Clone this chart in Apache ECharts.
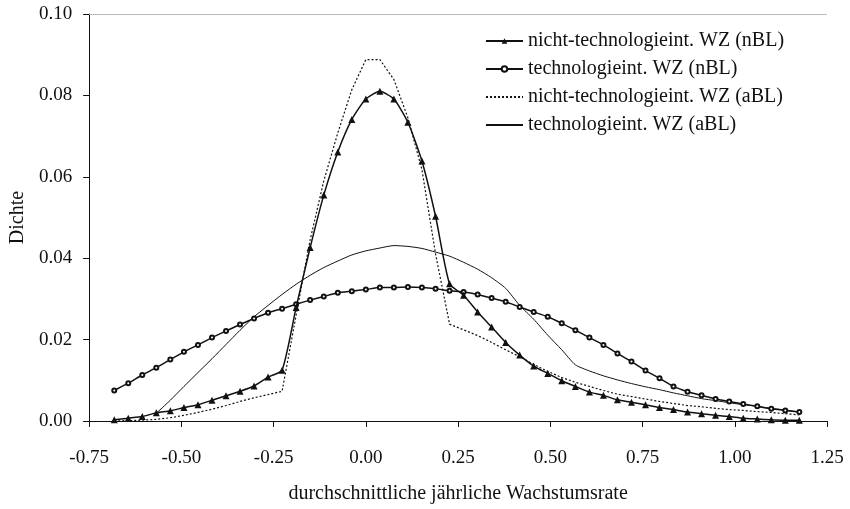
<!DOCTYPE html>
<html>
<head>
<meta charset="utf-8">
<script src="https://cdn.jsdelivr.net/npm/echarts@6/dist/echarts.min.js"></script>
<style>
  html, body { margin: 0; padding: 0; background: #fff; }
  #chart { width: 850px; height: 509px; }
</style>
</head>
<body>
<div id="chart"></div>
<script>
// x-Stützstellen (gemeinsam für alle Kurven)
var xs = [-0.682, -0.644, -0.606, -0.568, -0.530, -0.493, -0.455, -0.417, -0.379, -0.341,
          -0.303, -0.265, -0.227, -0.189, -0.151, -0.114, -0.076, -0.038, 0.000, 0.038,
          0.076, 0.114, 0.152, 0.189, 0.227, 0.265, 0.303, 0.341, 0.379, 0.417,
          0.455, 0.493, 0.531, 0.568, 0.606, 0.644, 0.682, 0.720, 0.758, 0.796,
          0.834, 0.872, 0.910, 0.948, 0.985, 1.023, 1.061, 1.099, 1.137, 1.175];

// nicht-technologieint. WZ (nBL)
var nichtTechNBL = [0.0003, 0.0007, 0.0011, 0.0020, 0.0025, 0.0033, 0.0040, 0.0051, 0.0062, 0.0073,
                    0.0086, 0.0108, 0.0125, 0.0279, 0.0426, 0.0555, 0.0661, 0.0741, 0.0791, 0.0810,
                    0.0791, 0.0734, 0.0639, 0.0503, 0.0337, 0.0309, 0.0268, 0.0231, 0.0193, 0.0162,
                    0.0135, 0.0117, 0.0099, 0.0085, 0.0071, 0.0063, 0.0052, 0.0046, 0.0040, 0.0033,
                    0.0028, 0.0022, 0.0018, 0.0014, 0.0011, 0.0007, 0.0005, 0.0003, 0.0002, 0.0002];

// technologieint. WZ (nBL)
var techNBL = [0.0075, 0.0093, 0.0113, 0.0131, 0.0151, 0.0170, 0.0187, 0.0205, 0.0221, 0.0237,
               0.0252, 0.0266, 0.0276, 0.0287, 0.0297, 0.0306, 0.0315, 0.0319, 0.0323, 0.0328,
               0.0328, 0.0329, 0.0328, 0.0325, 0.0320, 0.0317, 0.0311, 0.0302, 0.0293, 0.0280,
               0.0268, 0.0256, 0.0240, 0.0223, 0.0205, 0.0187, 0.0166, 0.0146, 0.0124, 0.0105,
               0.0085, 0.0072, 0.0063, 0.0054, 0.0048, 0.0042, 0.0036, 0.0030, 0.0026, 0.0022];

// nicht-technologieint. WZ (aBL)
var nichtTechABL = [0.0000, 0.0001, 0.0002, 0.0004, 0.0008, 0.0014, 0.0021, 0.0029, 0.0038, 0.0048,
                    0.0057, 0.0065, 0.0073, 0.0260, 0.0445, 0.0590, 0.0708, 0.0814, 0.0888, 0.0888,
                    0.0839, 0.0745, 0.0618, 0.0410, 0.0238, 0.0224, 0.0210, 0.0193, 0.0175, 0.0158,
                    0.0139, 0.0122, 0.0107, 0.0095, 0.0085, 0.0075, 0.0066, 0.0060, 0.0054, 0.0048,
                    0.0043, 0.0038, 0.0035, 0.0031, 0.0028, 0.0026, 0.0023, 0.0021, 0.0018, 0.0015];

// technologieint. WZ (aBL)
var techABL = [null, null, null, 0.0019, 0.0051, 0.0085, 0.0119, 0.0153, 0.0188, 0.0223,
               0.0256, 0.0284, 0.0311, 0.0336, 0.0358, 0.0377, 0.0393, 0.0408, 0.0418, 0.0425,
               0.0431, 0.0429, 0.0424, 0.0415, 0.0405, 0.0390, 0.0373, 0.0352, 0.0326, 0.0284,
               0.0250, 0.0211, 0.0175, 0.0138, 0.0123, 0.0111, 0.0101, 0.0092, 0.0084, 0.0077,
               0.0069, 0.0062, 0.0055, 0.0050, 0.0045, 0.0040, 0.0036, 0.0031, 0.0027, 0.0022];

var seriesNames = ['nicht-technologieint. WZ (nBL)', 'technologieint. WZ (nBL)',
                   'nicht-technologieint. WZ (aBL)', 'technologieint. WZ (aBL)'];

var xTickLabels = ['-0.75', '-0.50', '-0.25', '0.00', '0.25', '0.50', '0.75', '1.00', '1.25'];
var yTickLabels = ['0.00', '0.02', '0.04', '0.06', '0.08', '0.10'];

function pairs(ys) {
    return xs.map(function (x, i) { return [x, ys[i]]; });
}

var FONT = 'Liberation Serif';
var INK = '#111';

var option = {
    animation: false,
    backgroundColor: '#fff',
    textStyle: { fontFamily: FONT, color: INK },
    grid: { left: 82, right: 23, top: 14, bottom: 86 },
    legend: {
        orient: 'vertical',
        left: 485,
        top: 31,
        padding: 0,
        itemWidth: 37,
        itemHeight: 7,
        itemGap: 8,
        textStyle: { fontFamily: FONT, fontSize: 20, color: INK },
        data: [
            { name: seriesNames[0] },
            { name: seriesNames[1] },
            { name: seriesNames[2], itemStyle: { opacity: 0 } },
            { name: seriesNames[3], itemStyle: { opacity: 0 } }
        ]
    },
    xAxis: [{
        type: 'value',
        min: -0.75,
        max: 1.25,
        interval: 0.25,
        name: 'durchschnittliche jährliche Wachstumsrate',
        nameLocation: 'middle',
        nameGap: 63,
        nameTextStyle: { fontFamily: FONT, fontSize: 20, color: INK },
        axisLine: { onZero: false, lineStyle: { color: INK, width: 1 } },
        axisTick: { inside: false, length: 6, lineStyle: { color: INK } },
        axisLabel: {
            margin: 28, fontFamily: FONT, fontSize: 19, color: INK,
            formatter: function (v) { return xTickLabels[Math.round((v + 0.75) / 0.25)]; }
        },
        splitLine: { show: false },
        z: 5
    }, {
        type: 'value',
        position: 'top',
        min: -0.75,
        max: 1.25,
        axisLine: { show: true, onZero: false, lineStyle: { color: '#aaa', type: 'dotted', width: 1 } },
        axisTick: { show: false },
        axisLabel: { show: false },
        splitLine: { show: false }
    }],
    yAxis: {
        type: 'value',
        min: 0,
        max: 0.1,
        interval: 0.02,
        name: 'Dichte',
        nameLocation: 'middle',
        nameGap: 56,
        nameTextStyle: { fontFamily: FONT, fontSize: 20, color: INK },
        axisLine: { show: true, onZero: false, lineStyle: { color: INK, width: 1 } },
        axisTick: { show: true, length: 6, lineStyle: { color: INK } },
        axisLabel: {
            margin: 17, fontFamily: FONT, fontSize: 19, color: INK,
            formatter: function (v) { return yTickLabels[Math.round(v / 0.02)]; }
        },
        splitLine: { show: false }
    },
    series: [{
        name: seriesNames[0],
        type: 'line',
        data: pairs(nichtTechNBL),
        smooth: 0.2,
        symbol: 'triangle',
        symbolSize: 7,
        showAllSymbol: true,
        itemStyle: { color: INK },
        lineStyle: { color: INK, width: 1.5 },
        z: 4
    }, {
        name: seriesNames[1],
        type: 'line',
        data: pairs(techNBL),
        smooth: 0.2,
        symbol: 'emptyCircle',
        symbolSize: 4,
        showAllSymbol: true,
        itemStyle: { color: INK, borderWidth: 1 },
        lineStyle: { color: INK, width: 1.5 },
        z: 3
    }, {
        name: seriesNames[2],
        type: 'line',
        data: pairs(nichtTechABL),
        showSymbol: false,
        itemStyle: { color: INK },
        lineStyle: { color: INK, width: 1.2, type: [2, 2] },
        z: 2
    }, {
        name: seriesNames[3],
        type: 'line',
        data: pairs(techABL),
        smooth: 0.2,
        showSymbol: false,
        connectNulls: false,
        itemStyle: { color: INK },
        lineStyle: { color: INK, width: 1 },
        z: 2
    }]
};

var myChart = echarts.init(document.getElementById('chart'));
myChart.setOption(option);
</script>
</body>
</html>
